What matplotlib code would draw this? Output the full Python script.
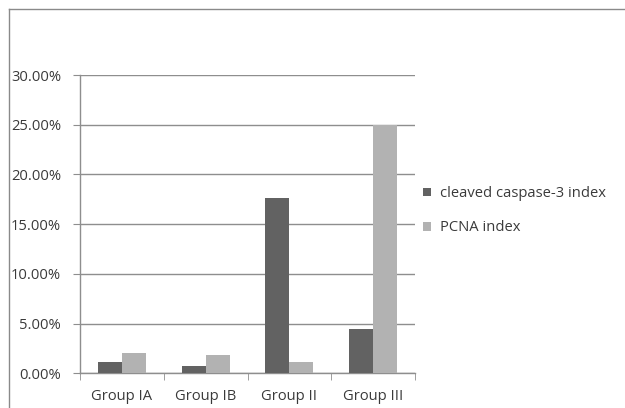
import numpy as np
import matplotlib
matplotlib.use("Agg")
import matplotlib.pyplot as plt
from matplotlib.lines import Line2D

groups = ["Group IA", "Group IB", "Group II", "Group III"]
caspase = [1.1, 0.75, 17.6, 4.45]   # cleaved caspase-3 index, %
pcna = [2.0, 1.85, 1.15, 25.0]      # PCNA index, %
yticks = [0, 5, 10, 15, 20, 25, 30]

dark = "#626262"
light = "#b2b2b2"
grid = "#8e8e8e"
text = "#3a3a3a"
fs = 10.6

plt.rcParams["font.family"] = ["Open Sans", "DejaVu Sans"]

fig = plt.figure(figsize=(6.25, 4.08), dpi=100)
ax = fig.add_axes([0.128, 0.085, 0.536, 0.731])

x = np.arange(len(groups))
w = 0.287
ax.bar(x - w / 2, caspase, w, color=dark, label="cleaved caspase-3 index", zorder=3)
ax.bar(x + w / 2, pcna, w, color=light, label="PCNA index", zorder=3)

ax.set_xlim(-0.5, len(groups) - 0.5)
ax.set_ylim(0, 30)
ax.set_yticks(yticks)
ax.set_yticklabels([f"{v:.2f}%" for v in yticks], fontsize=fs, color=text)
ax.yaxis.grid(True, color=grid, linewidth=1, zorder=0)
ax.tick_params(axis="y", length=5, color=grid, pad=8.5)

ax.set_xticks(x)
ax.set_xticklabels(groups, fontsize=fs, color=text)
ax.tick_params(axis="x", length=0, pad=11.5)
ax.set_xticks(np.arange(-0.5, len(groups)), minor=True)
ax.tick_params(axis="x", which="minor", length=5, color=grid)

for s in ["top", "right"]:
    ax.spines[s].set_visible(False)
for s in ["left", "bottom"]:
    ax.spines[s].set_color(grid)
    ax.spines[s].set_linewidth(1)

leg = fig.legend(loc="upper left", bbox_to_anchor=(0.668, 0.558), frameon=False,
                 fontsize=fs, handlelength=0.55, handleheight=0.55, handletextpad=0.55,
                 labelspacing=1.3, borderaxespad=0)
for t in leg.get_texts():
    t.set_color(text)

# outer chart border (top and left edges only are in frame)
fig.add_artist(Line2D([9 / 625, 9 / 625], [0, 1 - 9 / 408], transform=fig.transFigure,
                      color="#8a8a8a", linewidth=1))
fig.add_artist(Line2D([9 / 625, 1], [1 - 9 / 408, 1 - 9 / 408], transform=fig.transFigure,
                      color="#8a8a8a", linewidth=1))

fig.savefig("out.png", dpi=100)
